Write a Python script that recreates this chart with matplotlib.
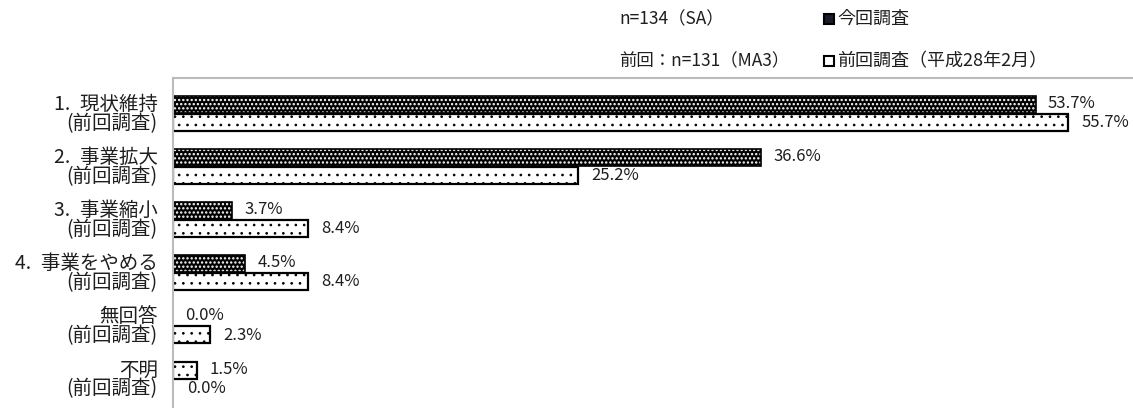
import matplotlib.pyplot as plt
from matplotlib.patches import Rectangle

plt.rcParams['font.family'] = ['Noto Sans CJK JP', 'DejaVu Sans']

# 今回調査 / 前回調査 (%)
items = ['1.\u2002現状維持', '2.\u2002事業拡大', '3.\u2002事業縮小', '4.\u2002事業をやめる', '無回答', '不明']
current = [53.7, 36.6, 3.7, 4.5, 0.0, 1.5]
previous = [55.7, 25.2, 8.4, 8.4, 2.3, 0.0]
prev_label = '(前回調査)'

fig = plt.figure(figsize=(11.33, 4.08), dpi=100)
ax = fig.add_axes([173 / 1133, 0.0, 1 - 173 / 1133, 330 / 408])

h = 0.32
off = 0.165
txt = '#1e1e1e'

def dark_bar(y, v):
    b = ax.barh(y, v, height=h, color='black', edgecolor='white', hatch='....', linewidth=0)
    for p in b:
        p.set_hatch_linewidth(1.1)
    ax.barh(y, v, height=h, fill=False, edgecolor='black', linewidth=1.2)

def light_bar(y, v):
    b = ax.barh(y, v, height=h, color='white', edgecolor='black', hatch='..', linewidth=0)
    for p in b:
        p.set_hatch_linewidth(0.7)
    ax.barh(y, v, height=h, fill=False, edgecolor='black', linewidth=1.6)

for i, (c, p) in enumerate(zip(current, previous)):
    yt, yb = i - off, i + off
    if c > 0:
        # 不明 の今回値は前回と同じ模様
        if items[i] == '不明':
            light_bar(yt, c)
        else:
            dark_bar(yt, c)
    if p > 0:
        light_bar(yb, p)
    ax.text(c + 0.75, yt - 0.02, f'{c:.1f}%', fontsize=12, va='center', ha='left', color=txt)
    ax.text(p + 0.85, yb + 0.01, f'{p:.1f}%', fontsize=12, va='center', ha='left', color=txt)
    # 項目名と「(前回調査)」を2行で
    ax.text(-0.95, i + 0.01, items[i] + '\n' + prev_label, fontsize=14, ha='right', va='center',
            multialignment='right', linespacing=0.85, color=txt)

ax.set_xlim(0, 59.75)
ax.set_ylim(5.55, -0.67)
ax.set_xticks([])
ax.set_yticks([])
for s in ['right', 'bottom']:
    ax.spines[s].set_visible(False)
for s in ['top', 'left']:
    ax.spines[s].set_color('#bbbbbb')
    ax.spines[s].set_linewidth(1.5)

# 凡例・サンプル数
fig.text(619 / 1133, 1 - 19 / 408, 'n=134（SA）', fontsize=12.5, va='center', color=txt)
fig.text(619 / 1133, 1 - 61 / 408, '前回：n=131（MA3）', fontsize=12.5, va='center', color=txt)
sq = 10
for yy, dark in [(19, True), (61, False)]:
    r = Rectangle((824 / 1133, 1 - (yy + sq / 2) / 408), sq / 1133, sq / 408, transform=fig.transFigure,
                  facecolor='#1a1a2a' if dark else 'white', edgecolor='black', linewidth=1.5)
    fig.add_artist(r)
fig.text(837 / 1133, 1 - 19 / 408, '今回調査', fontsize=13, va='center', color=txt)
fig.text(837 / 1133, 1 - 61 / 408, '前回調査（平成28年2月）', fontsize=13, va='center', color=txt)

fig.savefig('out.png', dpi=100)
